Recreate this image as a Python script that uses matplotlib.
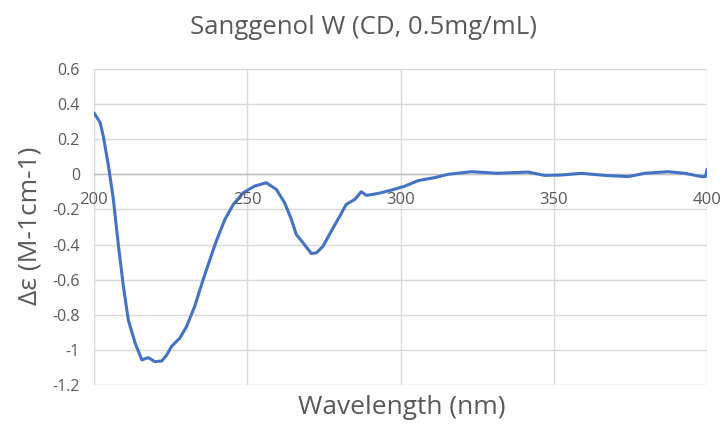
import matplotlib.pyplot as plt
import numpy as np

# CD spectrum of Sanggenol W, read as (wavelength, delta epsilon)
wavelength = [200, 202, 203, 204.7, 206.3, 208, 209.6, 211.2, 213.4, 215.6,
              217.7, 219.9, 222.1, 223.7, 225.3, 228, 230.2, 232.9, 235.6, 237.8,
              239.9, 242.7, 245.5, 248.7, 252.4, 256.2, 259.5, 262.2, 264.4, 266,
              268.2, 270.9, 272.6, 274.7, 277.4, 280.2, 282.3, 285.1, 287.2, 288.9,
              292.7, 297, 301.3, 305.7, 311.1, 315.5, 323.1, 331.8, 341.6, 347,
              352.5, 359, 366.6, 374.3, 379.7, 387.3, 392.7, 398.2, 399.5, 400]
delta_eps = [0.35, 0.295, 0.22, 0.05, -0.14, -0.41, -0.64, -0.83, -0.96, -1.057,
             -1.044, -1.067, -1.063, -1.03, -0.98, -0.933, -0.867, -0.75, -0.60, -0.486,
             -0.38, -0.257, -0.17, -0.105, -0.067, -0.048, -0.086, -0.162, -0.257, -0.343,
             -0.39, -0.451, -0.447, -0.41, -0.324, -0.238, -0.171, -0.143, -0.099, -0.12,
             -0.109, -0.09, -0.068, -0.036, -0.019, 0.0, 0.015, 0.006, 0.013, -0.006,
             -0.004, 0.006, -0.006, -0.013, 0.006, 0.015, 0.006, -0.013, -0.013, 0.028]

x_ticks = [200, 250, 300, 350, 400]
y_ticks = [0.6, 0.4, 0.2, 0, -0.2, -0.4, -0.6, -0.8, -1, -1.2]

plt.rcParams['font.family'] = ['Open Sans', 'DejaVu Sans']
txt = '#595959'
grid = '#d9d9d9'

fig = plt.figure(figsize=(7.27, 4.24), dpi=100)
ax = fig.add_axes([94/727, 1-385/424, (707-94)/727, (385-69)/424])

ax.plot(wavelength, delta_eps, color='#4472C4', lw=2.2, solid_capstyle='round', zorder=3)

ax.set_xlim(200, 400)
ax.set_ylim(-1.2, 0.6)
for s in ax.spines.values():
    s.set_visible(False)
ax.set_xticks(x_ticks)
ax.set_yticks(y_ticks)
ax.grid(True, color=grid, lw=1)
ax.set_axisbelow(True)
ax.tick_params(length=0)
ax.set_xticklabels([])
ax.set_yticklabels([('%g' % v) for v in y_ticks], color=txt, fontsize=11.5)
ax.tick_params(axis='y', pad=10)
ax.axhline(0, color='#bfbfbf', lw=1, zorder=1)

# x tick labels sit under the zero line
for v in x_ticks:
    ax.annotate(str(v), (v, 0), xytext=(0, -26), textcoords='offset pixels',
                ha='center', va='center', color=txt, fontsize=12)

fig.text(0.5, 1-27/424, 'Sanggenol W (CD, 0.5mg/mL)', ha='center', va='center',
         color=txt, fontsize=18.5)
fig.text(402/727, 1-408/424, 'Wavelength (nm)', ha='center', va='center',
         color=txt, fontsize=19)
fig.text(30/727, 1-226/424, 'Δε (M-1cm-1)', ha='center', va='center',
         rotation=90, color=txt, fontsize=19)

fig.savefig('out.png', dpi=100)
